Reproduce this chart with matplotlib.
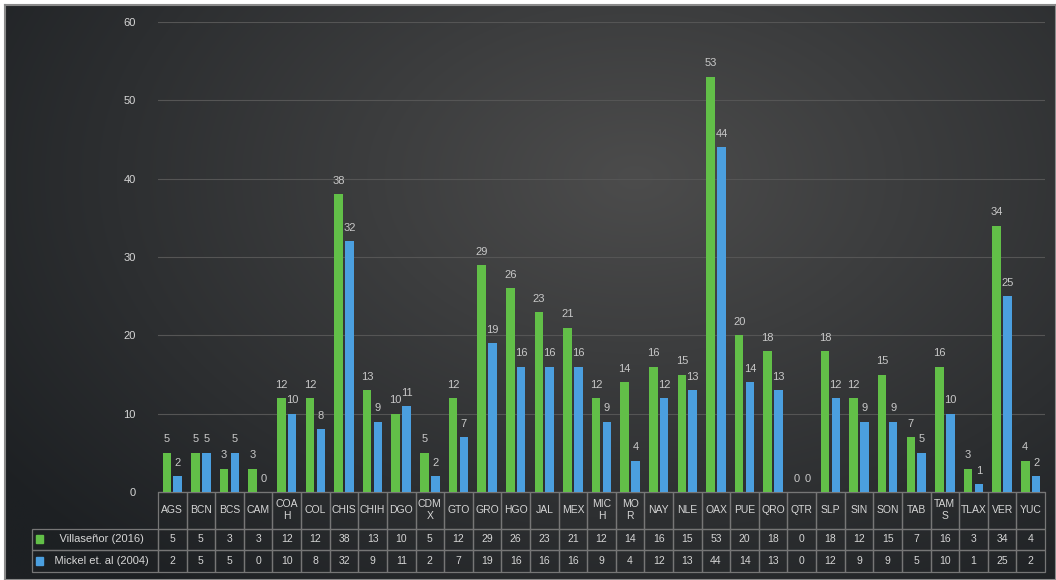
import numpy as np
import matplotlib
matplotlib.use("Agg")
import matplotlib.pyplot as plt
from matplotlib.patches import Rectangle

# estados (etiquetas de la tabla, con el corte de línea del original)
states = ["AGS", "BCN", "BCS", "CAM", "COA\nH", "COL", "CHIS", "CHIH", "DGO", "CDM\nX",
          "GTO", "GRO", "HGO", "JAL", "MEX", "MIC\nH", "MO\nR", "NAY", "NLE", "OAX",
          "PUE", "QRO", "QTR", "SLP", "SIN", "SON", "TAB", "TAM\nS", "TLAX", "VER", "YUC"]
villasenor = [5, 5, 3, 3, 12, 12, 38, 13, 10, 5, 12, 29, 26, 23, 21, 12, 14, 16, 15, 53,
              20, 18, 0, 18, 12, 15, 7, 16, 3, 34, 4]
mickel = [2, 5, 5, 0, 10, 8, 32, 9, 11, 2, 7, 19, 16, 16, 16, 9, 4, 12, 13, 44,
          14, 13, 0, 12, 9, 9, 5, 10, 1, 25, 2]
series_names = ["Villaseñor (2016)", "Mickel et. al (2004)"]
series_colors = ["#62bf48", "#4b9fdf"]
yticks = [0, 10, 20, 30, 40, 50, 60]

plt.rcParams["font.family"] = ["Liberation Sans", "DejaVu Sans"]
TXT = "#d6d6d6"
LINE = "#767676"

W, H = 1056, 580
fig = plt.figure(figsize=(W / 100, H / 100), dpi=100, facecolor="white")

# fondo oscuro con degradado radial
bg = fig.add_axes([5 / W, 0, 1 - 5 / W, 1 - 5 / H])
yy, xx = np.mgrid[0:1:300j, 0:1:600j]
d = np.sqrt(((xx - 0.6) / 0.75) ** 2 + ((yy - 0.3) / 0.9) ** 2)
d = np.clip(d, 0, 1)
c_in = np.array([0x4c, 0x4c, 0x4c]) / 255
c_out = np.array([0x1d, 0x20, 0x23]) / 255
img = c_in[None, None, :] * (1 - d[..., None]) + c_out[None, None, :] * d[..., None]
bg.imshow(img, aspect="auto", extent=[0, 1, 0, 1], origin="upper")
bg.set_xticks([])
bg.set_yticks([])
for s in bg.spines.values():
    s.set_color("#8a8a8a")
    s.set_linewidth(1.5)

ax = fig.add_axes([158 / W, 88 / H, 887 / W, 470 / H])
ax.set_facecolor("none")

x = np.arange(len(states))
bw = 0.3
off = 0.19
for vals, name, col, sgn in [(villasenor, series_names[0], series_colors[0], -1),
                              (mickel, series_names[1], series_colors[1], 1)]:
    bars = ax.bar(x + sgn * off, vals, width=bw, color=col, label=name, zorder=3)
    for b, v in zip(bars, vals):
        ax.annotate(str(v), (b.get_x() + b.get_width() / 2, v), xytext=(0, 6),
                    textcoords="offset points", ha="center", va="bottom",
                    fontsize=8, color="#c8c8c8", zorder=4)

ax.set_xlim(-0.5, len(states) - 0.5)
ax.set_ylim(0, 60)
ax.set_yticks(yticks)
ax.set_yticklabels([str(t) for t in yticks], fontsize=8, color=TXT)
ax.tick_params(axis="y", length=0, pad=16)
ax.set_xticks([])
ax.yaxis.grid(True, color="#555555", linewidth=0.8, zorder=0)
for s in ["top", "right", "left"]:
    ax.spines[s].set_visible(False)
ax.spines["bottom"].set_color(LINE)

# tabla de datos bajo el eje (primera columna = leyenda)
lab_w = 126 / 887
rows = [["    " + series_names[0]] + [str(v) for v in villasenor],
        ["    " + series_names[1]] + [str(v) for v in mickel]]
tbl = ax.table(cellText=rows,
               colLabels=[""] + states,
               colWidths=[lab_w] + [1 / len(states)] * len(states),
               cellLoc="center",
               bbox=[-lab_w, -80 / 470, 1 + lab_w, 80 / 470])
tbl.auto_set_font_size(False)
tbl.set_fontsize(7.5)
for (r, c), cell in tbl.get_celld().items():
    cell.set_facecolor("none")
    cell.set_edgecolor(LINE)
    cell.set_linewidth(0.9)
    cell.get_text().set_color(TXT)
    cell.set_height(0.42 if r == 0 else 0.25)
    if c == 0:
        cell.get_text().set_fontsize(8)
        if r == 0:
            cell.set_visible(False)

# cuadros de leyenda en las etiquetas de fila
row_y = [-(539 - 492) / 470, -(561 - 492) / 470]
for yv, col in zip(row_y, series_colors):
    ax.add_patch(Rectangle((-lab_w + 0.005, yv - 0.009), 0.0075, 0.018,
                           transform=ax.transAxes, color=col, clip_on=False))

fig.savefig("out.png", dpi=100, facecolor=fig.get_facecolor())
